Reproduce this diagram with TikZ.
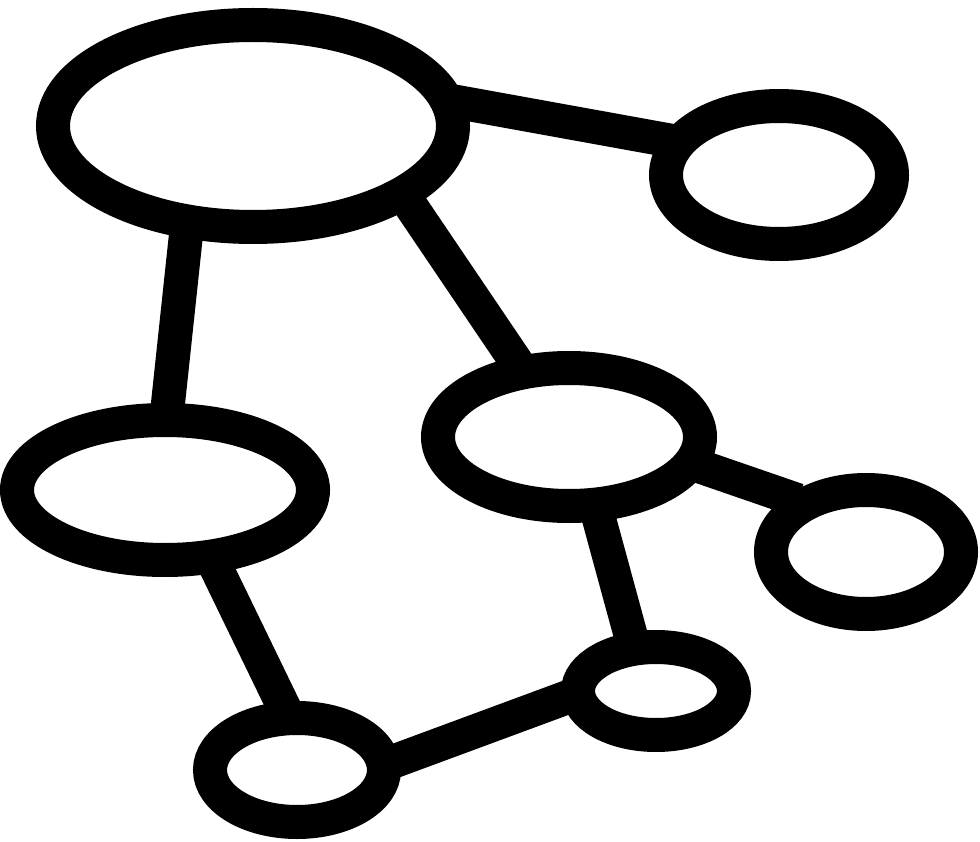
\documentclass[tikz,border=0pt]{standalone}
\usetikzlibrary{shapes.geometric}
\begin{document}
\begin{tikzpicture}[x=1pt,y=-1pt,
  blob/.style={ellipse,draw=black,line width=34pt,fill=white,inner sep=0pt},
  link/.style={line width=34pt,draw=black,shorten <=-12pt,shorten >=-12pt}]
\useasboundingbox (0,0) rectangle (980,842);
\node[blob,minimum width=400pt,minimum height=202pt] (big) at (253,126) {};
\node[blob,minimum width=226pt,minimum height=138pt] (tr) at (779,175) {};
\node[blob,minimum width=262pt,minimum height=138pt] (mid) at (569,437) {};
\node[blob,minimum width=296pt,minimum height=140pt] (left) at (165,490) {};
\node[blob,minimum width=190pt,minimum height=124pt] (right) at (866,552) {};
\node[blob,minimum width=156pt,minimum height=88pt] (bs) at (656,691) {};
\node[blob,minimum width=174pt,minimum height=104pt] (bl) at (297,770) {};
\draw[link] (big.6.5) -- (tr.163.4);
\draw[link] (big.239.3) -- (left.88.6);
\draw[link] (big.333) -- (mid.125);
\draw[link] (mid.347) -- (right.145);
\draw[link] (mid.290) -- (bs.114);
\draw[link] (left.303.5) -- (bl.103.6);
\draw[link] (bl.6) -- (bs.185.4);
\end{tikzpicture}
\end{document}
